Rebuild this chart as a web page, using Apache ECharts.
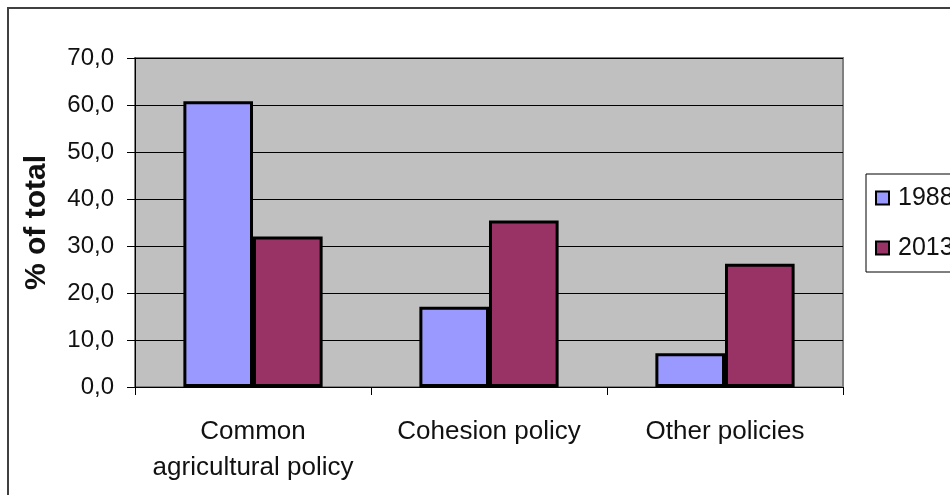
<!DOCTYPE html>
<html>
<head>
<meta charset="utf-8">
<script src="https://cdn.jsdelivr.net/npm/echarts@6/dist/echarts.min.js"></script>
<style>html,body{margin:0;padding:0;background:#fff;}#chart{width:950px;height:495px;}</style>
</head>
<body>
<div id="chart"></div>
<script>
const categories = ['Common\nagricultural policy', 'Cohesion policy', 'Other policies'];
const seriesNames = ['1988', '2013'];
const values1988 = [60.8, 17.1, 7.2];
const values2013 = [32.0, 35.4, 26.2];
const yTicks = { min: 0, max: 70, interval: 10 };

const font = 'Liberation Sans, Arial, sans-serif';
const chart = echarts.init(document.getElementById('chart'), null, { renderer: 'canvas' });
chart.setOption({
  backgroundColor: '#ffffff',
  animation: false,
  graphic: [{
    type: 'rect', silent: true, z: 100,
    shape: { x: 8, y: 8, width: 1000, height: 1000 },
    style: { fill: 'none', stroke: '#404040', lineWidth: 2 }
  }],
  grid: {
    left: 135, top: 58, right: 107, bottom: 108,
    show: true, backgroundColor: '#C0C0C0', borderColor: '#808080', borderWidth: 2
  },
  legend: {
    orient: 'vertical', left: 866, top: 174,
    data: seriesNames,
    icon: 'rect', itemWidth: 13, itemHeight: 13, itemGap: 24,
    padding: [11, 40, 11, 9],
    borderColor: '#000', borderWidth: 1, backgroundColor: '#fff',
    itemStyle: { borderColor: '#000', borderWidth: 2 },
    textStyle: { fontFamily: font, fontSize: 25, color: '#111', lineHeight: 26, padding: [0, 0, 0, 4] }
  },
  xAxis: {
    type: 'category', data: categories,
    axisLine: { lineStyle: { color: '#000', width: 1 } },
    axisTick: { show: true, length: 8, lineStyle: { color: '#000' } },
    axisLabel: { fontFamily: font, fontSize: 26, color: '#111', lineHeight: 36, margin: 27, interval: 0 }
  },
  yAxis: {
    type: 'value', min: yTicks.min, max: yTicks.max, interval: yTicks.interval,
    name: '% of total', nameLocation: 'middle', nameRotate: 90, nameGap: 83,
    nameTextStyle: { fontFamily: font, fontSize: 30, fontWeight: 'bold', color: '#111' },
    axisLine: { show: true, lineStyle: { color: '#000', width: 1 } },
    axisTick: { show: true, length: 8, lineStyle: { color: '#000' } },
    splitLine: { show: true, lineStyle: { color: '#000', width: 1 } },
    axisLabel: {
      fontFamily: font, fontSize: 24, color: '#111', margin: 21,
      formatter: v => v.toFixed(1).replace('.', ',')
    }
  },
  series: [
    { name: seriesNames[0], type: 'bar', data: values1988, barGap: '0%', barCategoryGap: '41%',
      itemStyle: { color: '#9999FF', borderColor: '#000', borderWidth: 3 } },
    { name: seriesNames[1], type: 'bar', data: values2013, barGap: '0%', barCategoryGap: '41%',
      itemStyle: { color: '#993366', borderColor: '#000', borderWidth: 3 } }
  ]
});
</script>
</body>
</html>
